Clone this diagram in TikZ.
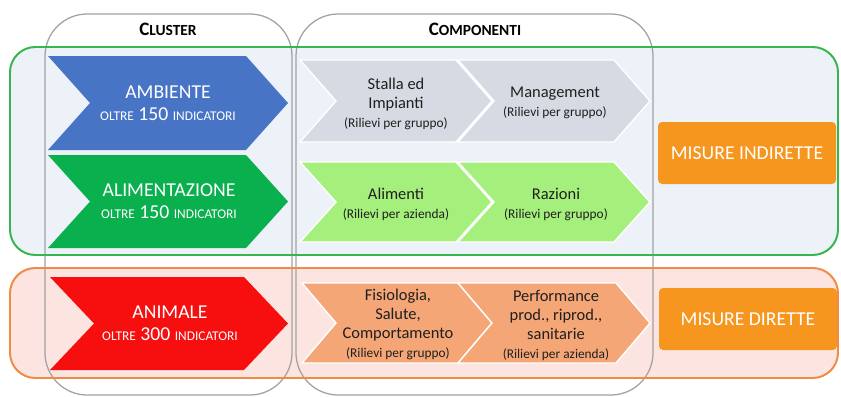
\documentclass[tikz,border=0pt]{standalone}
\usepackage{fontspec}
\setmainfont{Carlito}

\definecolor{bgblue}{HTML}{EDF1F8}
\definecolor{bgpink}{HTML}{FCE5E0}
\definecolor{lineGreen}{HTML}{35B64E}
\definecolor{lineOrange}{HTML}{F08A45}
\definecolor{colgray}{HTML}{A2A2A2}
\definecolor{ambBlue}{HTML}{4874C6}
\definecolor{aliGreen}{HTML}{0BB04E}
\definecolor{aniRed}{HTML}{F70F0F}
\definecolor{compGray}{HTML}{D6DAE3}
\definecolor{compGreen}{HTML}{A5F07C}
\definecolor{compSalmon}{HTML}{F5A676}
\definecolor{misOrange}{HTML}{F7961E}

% chevron: x-left, y-top, x-tip, y-bottom, point depth, fill style
\newcommand\chev[6]{%
  \fill[#6] (#1,#2) -- (#3-#5,#2) -- (#3,{(#2+#4)/2}) -- (#3-#5,#4)
    -- (#1,#4) -- (#1+#5,{(#2+#4)/2}) -- cycle;}
% fake small caps
\newcommand\smcap[1]{{\fontsize{9.5}{11}\selectfont #1}}
\newcommand\headsc[2]{{\fontsize{13.5}{16}\selectfont #1}{\fontsize{11}{13}\selectfont #2}}
\newcommand\ril[1]{{\fontsize{9.5}{12.5}\selectfont #1}}

\tikzset{
  colbox/.style={draw=colgray, line width=0.9pt, rounded corners=30pt},
  groupbox/.style={line width=1.4pt, rounded corners=18pt},
  misbox/.style={rounded corners=3pt, text=white,
    font=\fontsize{14}{16}\selectfont},
  clustertext/.style={text=white, align=center, font=\fontsize{14}{17}\selectfont},
  comptext/.style={text=black!88, align=center, font=\fontsize{11.7}{13.5}\selectfont}
}

\begin{document}
\begin{tikzpicture}[x=0.025cm, y=-0.025cm]
  \useasboundingbox (0,0) rectangle (841,396);

  % background bands
  \fill[bgblue, rounded corners=18pt] (10,47) rectangle (838,255);
  \fill[bgpink, rounded corners=18pt] (10,268) rectangle (838,378);

  % columns
  \draw[colbox] (45,14) rectangle (292,395);
  \draw[colbox] (296,14) rectangle (653,395);

  % band outlines
  \draw[groupbox, lineGreen] (10,47) rectangle (838,255);
  \draw[groupbox, lineOrange] (10,268) rectangle (838,378);

  % headings
  \node[font=\bfseries] (cluster) at (168,29) {\headsc{C}{LUSTER}};
  \node[font=\bfseries] (componenti) at (475,29) {\headsc{C}{OMPONENTI}};

  % cluster chevrons
  \chev{48}{56}{288}{150}{42}{ambBlue}
  \chev{48}{155}{288}{248}{42}{aliGreen}
  \chev{50}{277}{288}{370}{44}{aniRed}

  \node[clustertext] (ambiente) at (168,103)
    {AMBIENTE\\[-1pt]{\smcap{OLTRE} \fontsize{14}{14}\selectfont 150 \smcap{INDICATORI}}};
  \node[clustertext] (alimentazione) at (169,201)
    {ALIMENTAZIONE\\[-1pt]{\smcap{OLTRE} \fontsize{14}{14}\selectfont 150 \smcap{INDICATORI}}};
  \node[clustertext] (animale) at (170,323)
    {ANIMALE\\[-1pt]{\smcap{OLTRE} \fontsize{14}{14}\selectfont 300 \smcap{INDICATORI}}};

  % component chevrons
  \chev{300}{60}{492}{142}{36}{compGray, draw=white, line width=1pt}
  \chev{458}{60}{650}{142}{36}{compGray, draw=white, line width=1pt}
  \chev{300}{162}{492}{242}{36}{compGreen, draw=white, line width=1pt}
  \chev{458}{162}{650}{242}{36}{compGreen, draw=white, line width=1pt}
  \chev{302}{283}{492}{363}{34}{compSalmon, draw=white, line width=1pt}
  \chev{458}{283}{650}{363}{34}{compSalmon, draw=white, line width=1pt}

  \node[comptext] (stalla) at (396,104)
    {Stalla ed\\Impianti\\\ril{(Rilievi per gruppo)}};
  \node[comptext] (management) at (555,103)
    {Management\\\ril{(Rilievi per gruppo)}};
  \node[comptext] (alimenti) at (396,204)
    {Alimenti\\\ril{(Rilievi per azienda)}};
  \node[comptext] (razioni) at (556,204)
    {Razioni\\\ril{(Rilievi per gruppo)}};
  \node[comptext] (fisiologia) at (398,324)
    {Fisiologia,\\Salute,\\Comportamento\\\ril{(Rilievi per gruppo)}};
  \node[comptext] (performance) at (556,325)
    {Performance\\prod., riprod.,\\sanitarie\\\ril{(Rilievi per azienda)}};

  % measures
  \fill[misOrange, rounded corners=3pt] (658,122) rectangle (836,184);
  \node[misbox] (indirette) at (747,153) {MISURE INDIRETTE};
  \fill[misOrange, rounded corners=3pt] (659,288) rectangle (837,350);
  \node[misbox] (dirette) at (748,319) {MISURE DIRETTE};
\end{tikzpicture}
\end{document}
